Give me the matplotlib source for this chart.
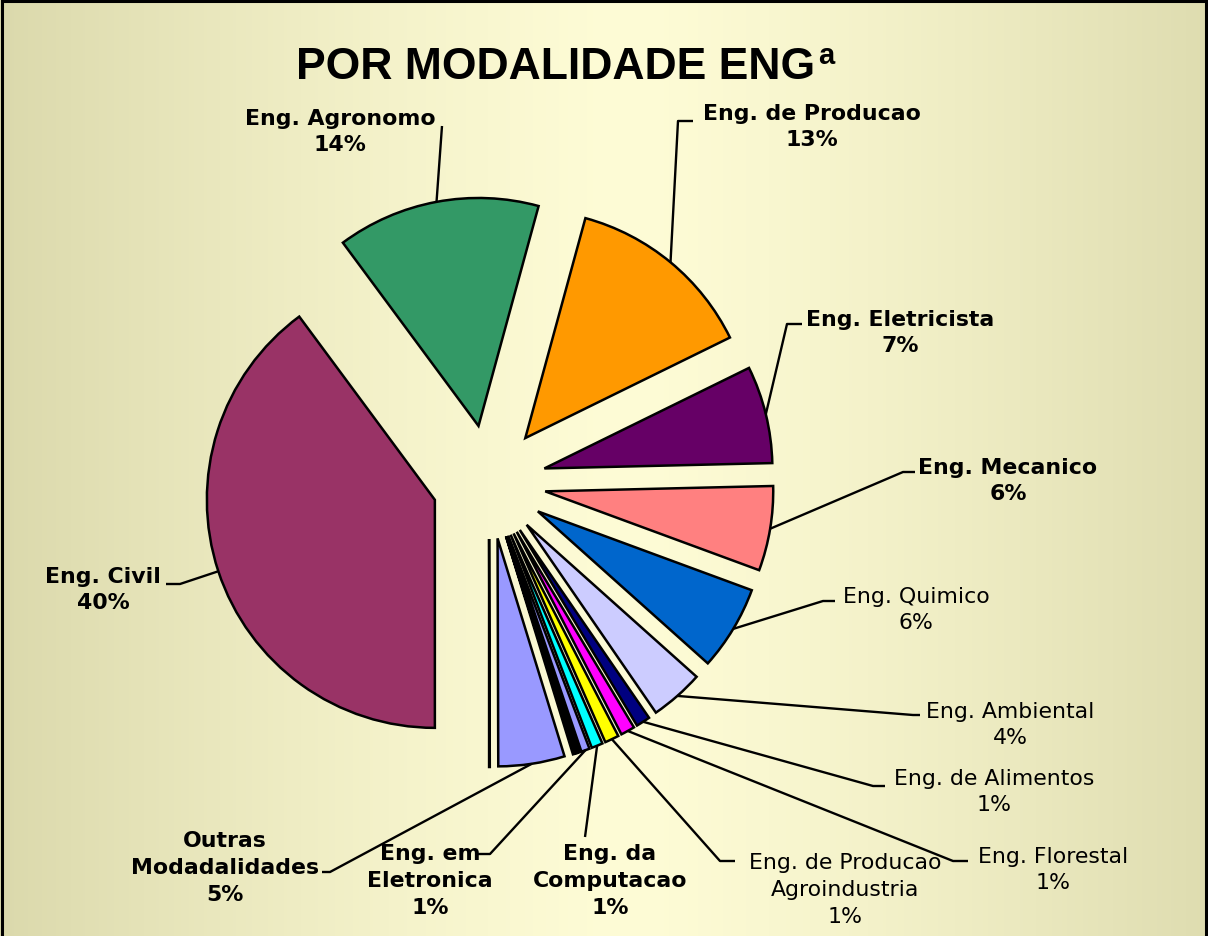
import numpy as np
import matplotlib
matplotlib.use("Agg")
import matplotlib.pyplot as plt
from matplotlib.patches import Rectangle

# ---------------- data ----------------
categories = [
    "Eng. Civil", "Eng. Agronomo", "Eng. de Producao", "Eng. Eletricista",
    "Eng. Mecanico", "Eng. Quimico", "Eng. Ambiental", "Eng. de Alimentos",
    "Eng. Florestal", "Eng. de Producao\nAgroindustria", "Eng. da\nComputacao",
    "Eng. em\nEletronica", "", "", "", "Outras\nModadalidades", "",
]
values = [39.9, 14.4, 13.5, 6.9, 6.0, 6.0, 3.8, 1.0, 1.0, 1.0, 0.8, 0.6,
          0.15, 0.15, 0.15, 4.7, 0.05]
colors = ["#993366", "#339966", "#FF9900", "#660066", "#FF8080", "#0066CC",
          "#CCCCFF", "#000080", "#FF00FF", "#FFFF00", "#00FFFF", "#9999FF",
          "#800080", "#800000", "#008080", "#9999FF", "#333333"]
bold_label = [True, True, True, True, True, False, False, False, False, False,
              True, True, False, False, False, True, False]
title_main = "POR MODALIDADE ENG"
title_sup = "a"

# ---------------- layout (pixel coords, origin top-left) ----------------
W, H = 1208, 937
S = 228.0            # pixels per pie radius
# text centre, elbow point, end point of leader
label_layout = {
    0: ((103, 590), (180, 585), (166, 585)),
    1: ((340, 132), (442, 127), (442, 127)),
    2: ((812, 127), (678, 122), (693, 122)),
    3: ((900, 333), (787, 325), (802, 325)),
    4: ((1008, 481), (903, 473), (915, 473)),
    5: ((916, 610), (823, 602), (835, 602)),
    6: ((1010, 725), (913, 716), (920, 716)),
    7: ((994, 792), (873, 787), (885, 787)),
    8: ((1053, 870), (953, 862), (968, 862)),
    9: ((845, 890), (720, 862), (735, 862)),
    10: ((610, 881), (585, 838), (585, 838)),
    11: ((430, 881), (490, 855), (478, 855)),
    15: ((225, 868), (330, 873), (322, 873)),
}


def P(x, y):
    return (x / S, (H - y) / S)


fig = plt.figure(figsize=(W / 100, H / 100), dpi=100)
ax = fig.add_axes([0, 0, 1, 1])

# background gradient
xs = np.linspace(0, 1, W)
t = np.clip(np.abs(xs - 0.52) / 0.52, 0, 1) ** 1.3
edge = np.array([219, 217, 172]) / 255.0
mid = np.array([254, 252, 214]) / 255.0
row = mid[None, :] + (edge - mid)[None, :] * t[:, None]
img = np.repeat(row[None, :, :], 20, axis=0)
ax.imshow(img, extent=(0, W / S, 0, H / S), aspect="auto", zorder=0,
          interpolation="bilinear")

cx, cy = P(489, 483)
wedges, _ = ax.pie(values, colors=colors, startangle=270, counterclock=False,
                   center=(cx, cy), radius=1.0,
                   explode=[57 / S] * len(values),
                   wedgeprops=dict(edgecolor="black", linewidth=1.8,
                                   joinstyle="miter"),
                   frame=True)
for w in wedges:
    w.set_zorder(2)

total = sum(values)
for i, (name, v) in enumerate(zip(categories, values)):
    if i not in label_layout:
        continue
    (tx, ty), (ex, ey), (fx, fy) = label_layout[i]
    w = wedges[i]
    th = np.deg2rad(0.5 * (w.theta1 + w.theta2))
    ax0 = w.center[0] + w.r * np.cos(th)
    ay0 = w.center[1] + w.r * np.sin(th)
    e = P(ex, ey)
    f = P(fx, fy)
    ax.plot([ax0, e[0], f[0]], [ay0, e[1], f[1]], color="black", lw=1.7,
            zorder=3, solid_capstyle="butt")
    pct = round(v / total * 100)
    ax.text(*P(tx, ty), f"{name}\n{pct}%", ha="center", va="center",
            fontsize=15.8, family="DejaVu Sans",
            fontweight="bold" if bold_label[i] else "normal",
            linespacing=1.42, zorder=4)

ax.text(*P(815, 79), title_main, ha="right", va="baseline", fontsize=32,
        fontweight="bold", family="Liberation Sans", zorder=4)
ax.text(*P(818, 64), title_sup, ha="left", va="baseline", fontsize=21,
        fontweight="bold", family="Liberation Sans", zorder=4)

ax.set_xlim(0, W / S)
ax.set_ylim(0, H / S)
ax.set_aspect("equal")
ax.axis("off")

# frame border
fig.patches.append(Rectangle((2 / W, -0.01), (W - 4) / W, 1.01 - 1.5 / H,
                             transform=fig.transFigure, fill=False,
                             edgecolor="black", lw=2.2, zorder=10))

fig.savefig("out.png", dpi=100)
